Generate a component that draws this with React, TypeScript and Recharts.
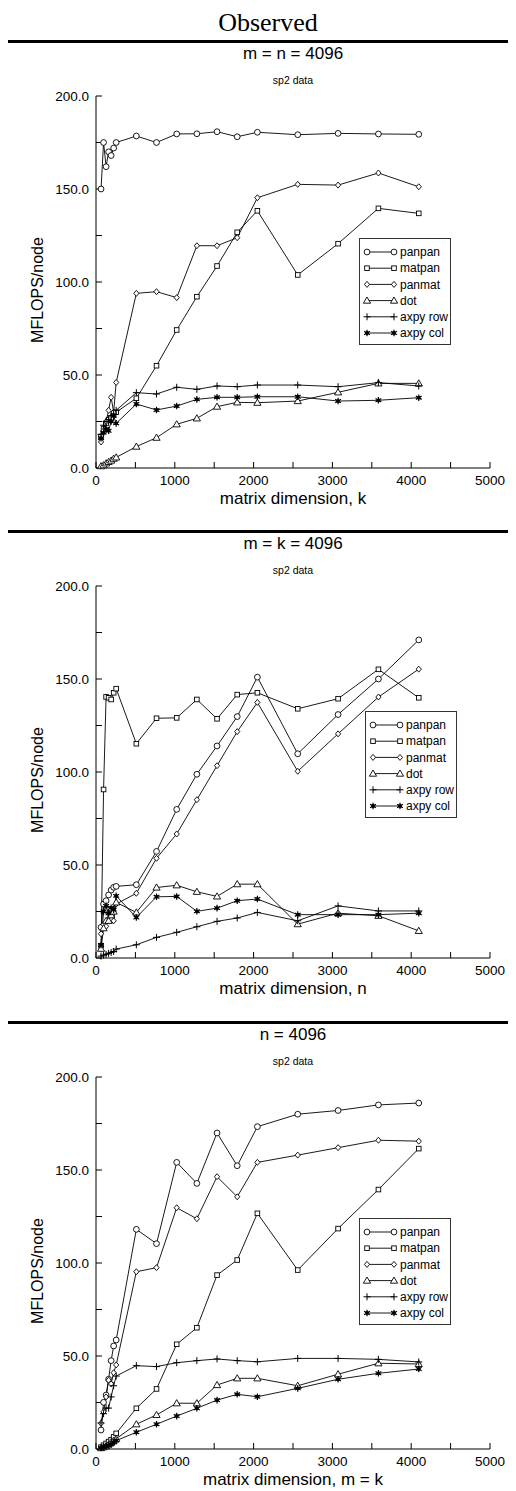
import React from 'react';
import { LineChart, Line, XAxis, YAxis, Legend } from 'recharts';

// matrix sizes used in every run
const sizes = [64, 96, 128, 160, 192, 224, 256, 512, 768, 1024, 1280, 1536, 1792, 2048, 2560, 3072, 3584, 4096];
const seriesKeys = ['panpan', 'matpan', 'panmat', 'dot', 'axpyRow', 'axpyCol'];
const seriesNames = ['panpan', 'matpan', 'panmat', 'dot', 'axpy row', 'axpy col'];
const xTicks = [0, 500, 1000, 1500, 2000, 2500, 3000, 3500, 4000, 4500, 5000];
const yTicks = [0, 25, 50, 75, 100, 125, 150, 175, 200];

// m = n = 4096, k varies
const kPanpan = [150, 175, 162, 170, 168, 172, 175, 178.5, 175, 179.6, 179.7, 180.8, 178.1, 180.5, 179.2, 179.9, 179.6, 179.4];
const kMatpan = [17, 21, 24, 26, 27, 29, 30, 37.5, 55, 74.2, 92.1, 108.6, 126.7, 138.3, 103.8, 120.6, 139.6, 136.9];
const kPanmat = [14, 20, 25, 31, 38, 30, 46, 93.9, 94.8, 91.6, 119.5, 119.5, 123.8, 145.3, 152.5, 152.1, 158.6, 151.2];
const kDot = [1, 1.5, 2.5, 3.3, 4, 5, 5.7, 11.5, 16.3, 23.5, 26.7, 33, 35.3, 35.1, 36, 40.7, 45.5, 45.5];
const kAxpyRow = [18, 23, 25, 26, 28, 29, 31, 40.5, 39.8, 43.4, 42.3, 44.1, 43.7, 44.6, 44.6, 43.7, 45.9, 44.1];
const kAxpyCol = [16, 19, 21, 20, 25, 28, 24, 34.4, 31.2, 33.3, 36.9, 38, 38, 38.3, 38.3, 36, 36.4, 37.8];

// m = k = 4096, n varies
const nPanpan = [16.5, 29, 30.8, 33.9, 36.5, 38, 38.5, 39.4, 57.3, 79.9, 98.8, 114, 129.8, 151, 109.8, 130.9, 150, 171];
const nMatpan = [6.6, 90.6, 140.4, 139.9, 139, 142.6, 144.8, 115.2, 128.9, 129.1, 139, 128.6, 141.6, 142.6, 134, 139.4, 155.2, 139.9];
const nPanmat = [13, 18, 17, 24, 26, 20, 29, 34.8, 53.6, 66.7, 85.1, 103.4, 121.7, 137.4, 100.4, 120.5, 140.3, 155.3];
const nDot = [5, 16, 20, 20, 23, 25, 29.9, 24.5, 37.9, 39.1, 35.6, 33.1, 39.7, 39.7, 18.2, 24.1, 22.7, 14.6];
const nAxpyRow = [1, 1.5, 2, 2.5, 3, 3.5, 4.8, 7.1, 11.1, 13.8, 16.8, 19.7, 21.5, 24.5, 20, 28, 25.3, 25.3];
const nAxpyCol = [7, 25, 28, 24, 27, 26, 33.4, 21.8, 32.9, 33.1, 25.1, 26.8, 30.8, 31.7, 23.3, 23.3, 23.3, 24.1];

// n = 4096, m = k varies
const mkPanpan = [10.2, 25.1, 29, 37.5, 47.5, 55.4, 58.6, 118.1, 110.4, 154.1, 142.8, 169.9, 152.3, 173.3, 180, 182, 185, 186];
const mkMatpan = [1, 2, 3, 4, 5, 6.5, 8.4, 21.9, 32.3, 56.3, 65.2, 93.5, 101.6, 126.7, 96.2, 118.5, 139.5, 161.5];
const mkPanmat = [13.8, 20, 28, 37, 35, 41, 45.2, 95.3, 97.5, 129.7, 123.8, 146.4, 135.6, 154.1, 158, 162, 166, 165.5];
const mkDot = [0.5, 1, 1.5, 2.5, 3.5, 4.5, 5.5, 13.3, 18.3, 24.6, 24.6, 34.4, 38, 38, 34, 40.2, 46.1, 45.7];
const mkAxpyRow = [14, 19, 22, 22, 28, 34, 39.2, 44.8, 44.3, 46.4, 47.5, 48.4, 47.5, 46.9, 48.7, 48.7, 48.2, 46.8];
const mkAxpyCol = [0.5, 1, 1.5, 2, 2.5, 3.5, 4.5, 9, 13.3, 17.7, 21.9, 26.3, 29.4, 28.1, 32.6, 37.5, 40.7, 43];

const FONT = '"Liberation Sans", Arial, Helvetica, sans-serif';

function buildRows(series: number[][]) {
  return sizes.map((x, i) => {
    const row: any = { x };
    seriesKeys.forEach((k, j) => (row[k] = series[j][i]));
    return row;
  });
}

function Marker({ kind, cx, cy }: { kind: string; cx: number; cy: number }) {
  const s = { stroke: '#000', strokeWidth: 0.9, fill: '#fff' };
  switch (kind) {
    case 'panpan':
      return <circle cx={cx} cy={cy} r={2.9} {...s} />;
    case 'matpan':
      return <rect x={cx - 2.3} y={cy - 2.3} width={4.6} height={4.6} {...s} />;
    case 'panmat':
      return <path d={`M${cx},${cy - 3}L${cx + 2.6},${cy}L${cx},${cy + 3}L${cx - 2.6},${cy}Z`} {...s} />;
    case 'dot':
      return <path d={`M${cx},${cy - 3.6}L${cx + 3.6},${cy + 2.6}L${cx - 3.6},${cy + 2.6}Z`} {...s} />;
    case 'axpyRow':
      return (
        <path d={`M${cx - 3.5},${cy}H${cx + 3.5}M${cx},${cy - 3.5}V${cy + 3.5}`} stroke="#000" strokeWidth={1} />
      );
    default:
      return (
        <g stroke="#000" strokeWidth={1.2}>
          <path d={`M${cx},${cy - 3.3}V${cy + 3.3}M${cx - 2.9},${cy - 1.7}L${cx + 2.9},${cy + 1.7}M${cx - 2.9},${cy + 1.7}L${cx + 2.9},${cy - 1.7}`} />
          <circle cx={cx} cy={cy} r={1.3} fill="#000" />
        </g>
      );
  }
}

function LegendBox({ payload }: any) {
  // keep the plotting order, not the alphabetical one
  const items = [...(payload || [])].sort(
    (a: any, b: any) => seriesKeys.indexOf(a.dataKey) - seriesKeys.indexOf(b.dataKey)
  );
  return (
    <div
      style={{
        border: '1px solid #333',
        background: '#fff',
        width: 92,
        height: 107,
        boxSizing: 'border-box',
      }}
    >
      <svg width={90} height={105}>
        {items.map((e: any, i: number) => {
          const cy = 13 + i * 16.2;
          return (
            <g key={e.dataKey}>
              <line x1={7} x2={34} y1={cy} y2={cy} stroke="#000" strokeWidth={0.9} />
              <Marker kind={e.dataKey} cx={7} cy={cy} />
              <Marker kind={e.dataKey} cx={34} cy={cy} />
              <text x={40} y={cy + 4.2} fontSize={12} fontFamily={FONT} fill="#000">
                {e.value}
              </text>
            </g>
          );
        })}
      </svg>
    </div>
  );
}

function Panel({
  top,
  title,
  xLabel,
  series,
  legendLeft,
  legendTop,
}: {
  top: number;
  title: string;
  xLabel: string;
  series: number[][];
  legendLeft: number;
  legendTop: number;
}) {
  const rows = buildRows(series);
  return (
    <div style={{ position: 'absolute', top, left: 0, width: 508, height: 490 }}>
      <div style={{ position: 'absolute', top: -1.5, left: 0, width: 508, height: 3, background: '#000' }} />
      <div
        style={{
          position: 'absolute',
          top: 3,
          left: 88,
          width: 394,
          height: 20,
          lineHeight: '20px',
          fontSize: 17,
          textAlign: 'center',
        }}
      >
        {title}
      </div>
      <div
        style={{
          position: 'absolute',
          top: 32,
          left: 88,
          width: 394,
          height: 14,
          lineHeight: '14px',
          fontSize: 10.5,
          textAlign: 'center',
        }}
      >
        sp2 data
      </div>
      <div
        style={{
          position: 'absolute',
          left: 30,
          top: 249,
          transform: 'translate(-50%, -50%) rotate(-90deg)',
          whiteSpace: 'nowrap',
          fontSize: 16,
        }}
      >
        MFLOPS/node
      </div>
      <div style={{ position: 'absolute', top: 2, left: 0 }}>
        <LineChart width={508} height={488} data={rows} margin={{ top: 53, right: 26, bottom: 0, left: 0 }}>
          <XAxis
            dataKey="x"
            type="number"
            domain={[0, 5000]}
            ticks={xTicks}
            interval={0}
            tickFormatter={(v: number) => (v % 1000 === 0 ? String(v) : '')}
            tickSize={-6}
            tickMargin={13}
            height={63}
            stroke="#000"
            tick={{ fill: '#000', fontSize: 13.5, fontFamily: FONT }}
            label={{ value: xLabel, position: 'insideBottom', offset: 27, fill: '#000', fontSize: 17, fontFamily: FONT }}
          />
          <XAxis
            xAxisId="top"
            orientation="top"
            type="number"
            domain={[0, 5000]}
            ticks={xTicks}
            interval={0}
            tick={false}
            tickSize={-6}
            height={0}
            stroke="#000"
          />
          <YAxis
            type="number"
            domain={[0, 200]}
            ticks={yTicks}
            interval={0}
            tickFormatter={(v: number) => (v % 50 === 0 ? v.toFixed(1) : '')}
            tickSize={-6}
            tickMargin={13}
            width={88}
            stroke="#000"
            tick={{ fill: '#000', fontSize: 13.5, fontFamily: FONT }}
          />
          <YAxis
            yAxisId="right"
            orientation="right"
            type="number"
            domain={[0, 200]}
            ticks={yTicks}
            interval={0}
            tick={false}
            tickSize={-6}
            width={0}
            stroke="#000"
          />
          <Legend
            layout="vertical"
            align="center"
            verticalAlign="middle"
            content={<LegendBox />}
            wrapperStyle={{ left: legendLeft, top: legendTop, width: 'auto', height: 'auto' }}
          />
          {seriesKeys.map((k, j) => (
            <Line
              key={k}
              dataKey={k}
              name={seriesNames[j]}
              type="linear"
              stroke="#000"
              strokeWidth={0.9}
              isAnimationActive={false}
              activeDot={false}
              dot={(p: any) => <Marker key={`${k}-${p.index}`} kind={k} cx={p.cx} cy={p.cy} />}
            />
          ))}
        </LineChart>
      </div>
    </div>
  );
}

export default function App() {
  return (
    <div style={{ position: 'relative', width: 508, height: 1483, fontFamily: FONT, color: '#000' }}>
      <div
        style={{
          position: 'absolute',
          top: 0,
          left: 6,
          width: 508,
          height: 30,
          lineHeight: '30px',
          textAlign: 'center',
          fontFamily: '"Liberation Serif", "Times New Roman", serif',
          fontSize: 26,
        }}
      >
        Observed
      </div>
      <Panel
        top={33}
        title="m = n = 4096"
        xLabel="matrix dimension, k"
        series={[kPanpan, kMatpan, kPanmat, kDot, kAxpyRow, kAxpyCol]}
        legendLeft={351}
        legendTop={195}
      />
      <Panel
        top={523}
        title="m = k = 4096"
        xLabel="matrix dimension, n"
        series={[nPanpan, nMatpan, nPanmat, nDot, nAxpyRow, nAxpyCol]}
        legendLeft={357}
        legendTop={178}
      />
      <Panel
        top={1014}
        title="n = 4096"
        xLabel="matrix dimension, m = k"
        series={[mkPanpan, mkMatpan, mkPanmat, mkDot, mkAxpyRow, mkAxpyCol]}
        legendLeft={351}
        legendTop={194}
      />
    </div>
  );
}
